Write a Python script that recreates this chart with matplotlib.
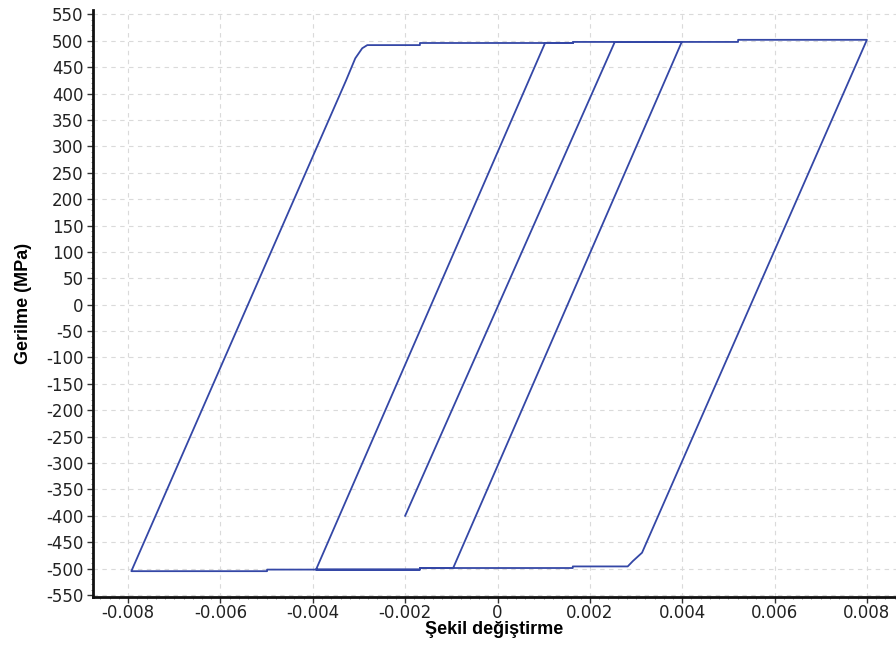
import numpy as np
import matplotlib
matplotlib.use('Agg')
import matplotlib.pyplot as pyp
from matplotlib.ticker import MultipleLocator, FuncFormatter

pyp.rcParams['axes.unicode_minus'] = False

# cyclic stress-strain path (strain [-], stress [MPa]), in loading order
strain = [-0.002,
  0.00254, 0.00399,
  -0.00096, -0.00168, -0.00168, -0.00393,
  0.00103, 0.00163, 0.00163, 0.00521, 0.00521, 0.0080,
  0.00313, 0.00293, 0.00282, 0.00163, 0.00163, -0.00168, -0.00168,
  -0.00499, -0.00499, -0.00793,
  -0.00328, -0.00308, -0.00293, -0.00282, -0.00168, -0.00168, 0.00163]
stress = [-400,
  498, 498,
  -499, -499, -502, -502,
  496, 496, 498, 498, 502, 502,
  -470, -486, -496, -496, -499, -499, -502,
  -502, -505, -505,
  425, 467, 486, 492, 492, 496, 496]

x_ticks = [-0.008, -0.006, -0.004, -0.002, 0, 0.002, 0.004, 0.006, 0.008]
y_ticks = list(range(-550, 551, 50))


def fmt_strain(val, pos):
  if abs(val) < 1e-12:
    return '0'
  return '{0:.3f}'.format(val)


fig = pyp.figure(figsize=(8.96, 6.63), dpi=100)
ax = fig.add_axes([0.1038, 0.0995, 0.8962, 0.885])

ax.plot(strain, stress, color='#3447a6', linewidth=1.3, solid_joinstyle='round')

ax.set_xlim(-0.00876, 0.00863)
ax.set_ylim(-554, 558)
ax.set_xticks(x_ticks)
ax.set_yticks(y_ticks)
ax.xaxis.set_major_formatter(FuncFormatter(fmt_strain))
ax.xaxis.set_minor_locator(MultipleLocator(0.0002))
ax.yaxis.set_minor_locator(MultipleLocator(10))

ax.grid(True, which='major', color='#dadada', linestyle=(0, (4, 4)), linewidth=0.8)
ax.set_axisbelow(True)

for side in ['top', 'right']:
  ax.spines[side].set_visible(False)
for side in ['left', 'bottom']:
  ax.spines[side].set_linewidth(2.0)
  ax.spines[side].set_color('#111111')

ax.tick_params(which='major', direction='out', length=4, width=1, color='#333333',
  labelsize=12, labelcolor='#222222', pad=3)
ax.tick_params(axis='x', which='major', pad=1)
ax.tick_params(which='minor', direction='out', length=1.5, width=0.6, color='#888888')
for lab in ax.get_xticklabels() + ax.get_yticklabels():
  lab.set_family('DejaVu Sans')

ax.set_xlabel('Şekil değiştirme', fontsize=13, fontweight='bold',
  family='Liberation Sans', labelpad=-1)
ax.set_ylabel('Gerilme (MPa)', fontsize=13, fontweight='bold',
  family='Liberation Sans', labelpad=10)

fig.savefig('out.png', dpi=100, facecolor='white')
pyp.close()
